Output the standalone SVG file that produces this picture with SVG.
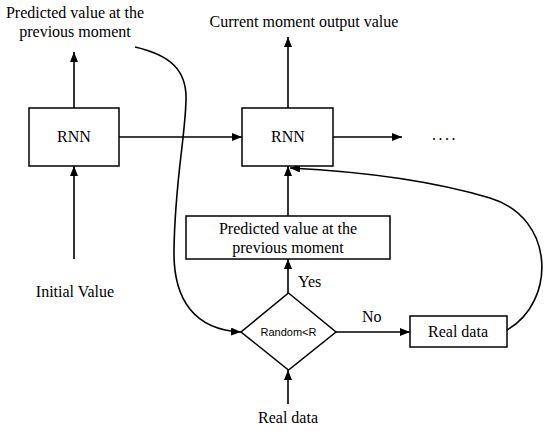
<svg xmlns="http://www.w3.org/2000/svg" width="550" height="431" viewBox="0 0 550 431">
<style>
.t{font-family:"Liberation Serif","Times New Roman",serif;font-size:16px;fill:#000}
.s{font-family:"Liberation Sans",Arial,sans-serif;font-size:11px;fill:#000}
.b{fill:#fff;stroke:#000;stroke-width:1.5}
.c{fill:none;stroke:#000;stroke-width:1.6;marker-end:url(#ah)}
</style>
<defs>
<marker id="ah" viewBox="0 0 10 8" refX="10" refY="4" markerWidth="10" markerHeight="8" markerUnits="userSpaceOnUse" orient="auto">
<path d="M0,0 L10,4 L0,8 Z" fill="#000"/>
</marker>
</defs>
<rect width="550" height="431" fill="#fff"/>
<g id="connectors">
<line class="c" x1="74" y1="108" x2="74" y2="52"/>
<line class="c" x1="74" y1="259" x2="74" y2="166"/>
<line class="c" x1="119" y1="137" x2="242" y2="137"/>
<line class="c" x1="288" y1="108" x2="288" y2="37"/>
<line class="c" x1="333" y1="137" x2="402" y2="137"/>
<line class="c" x1="288" y1="216" x2="288" y2="166"/>
<line class="c" x1="288" y1="293" x2="288" y2="259"/>
<line class="c" x1="336" y1="332" x2="410" y2="332"/>
<line class="c" x1="288" y1="404" x2="288" y2="370"/>
<path class="c" d="M135,47 C170,55 187,70 186,100 C185,140 175,180 174,250 C173,300 195,330 241,332"/>
<path class="c" d="M507,330 C556,302 556,218 490,198 C440,183 370,172 290,168"/>
<text class="t" x="298" y="287">Yes</text>
<text class="t" x="362" y="322">No</text>
</g>
<g id="label-prev-top">
<text class="t" x="75" y="18" text-anchor="middle">Predicted value at the</text>
<text class="t" x="75" y="37" text-anchor="middle">previous moment</text>
</g>
<g id="label-current">
<text class="t" x="304" y="27" text-anchor="middle">Current moment output value</text>
</g>
<g id="rnn1">
<rect class="b" x="29" y="108" width="90" height="58"/>
<text class="t" x="74" y="142" text-anchor="middle">RNN</text>
</g>
<g id="rnn2">
<rect class="b" x="242" y="108" width="91" height="58"/>
<text class="t" x="288" y="142" text-anchor="middle">RNN</text>
</g>
<g id="dots">
<text class="t" x="432" y="140" letter-spacing="2.5">....</text>
</g>
<g id="label-initial">
<text class="t" x="75" y="297" text-anchor="middle">Initial Value</text>
</g>
<g id="pred-box">
<rect class="b" x="186" y="216" width="204" height="43"/>
<text class="t" x="288" y="234" text-anchor="middle">Predicted value at the</text>
<text class="t" x="288" y="253" text-anchor="middle">previous moment</text>
</g>
<g id="decision">
<polygon class="b" points="288.5,293 336,332 288.5,370 241,332"/>
<text class="s" x="288.5" y="336" text-anchor="middle">Random&lt;R</text>
</g>
<g id="real-box">
<rect class="b" x="410" y="316" width="97" height="31"/>
<text class="t" x="458" y="337" text-anchor="middle">Real data</text>
</g>
<g id="label-real-bottom">
<text class="t" x="288" y="423" text-anchor="middle">Real data</text>
</g>
</svg>
